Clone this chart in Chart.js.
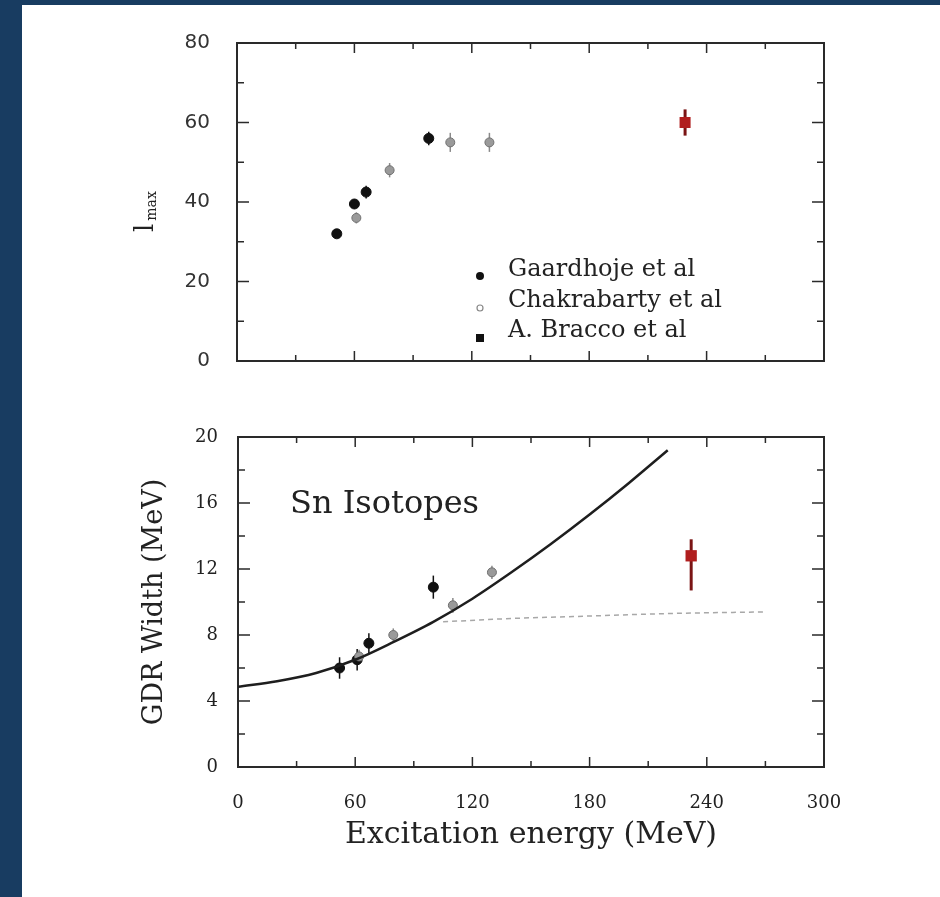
<!DOCTYPE html>
<html><head><meta charset="utf-8">
<script src="https://cdn.jsdelivr.net/npm/chart.js@4.4.1/dist/chart.umd.min.js"></script>
<style>
html,body{margin:0;padding:0;}
body{width:940px;height:897px;background:#183c61;position:relative;overflow:hidden;}
#paper{position:absolute;left:22px;top:5px;width:918px;height:892px;background:#fff;}
#c1{position:absolute;left:0;top:0;}
#c2{position:absolute;left:0;top:400px;}
</style></head><body>
<div id="paper"></div>
<canvas id="c1" width="940" height="400"></canvas>
<canvas id="c2" width="940" height="497"></canvas>
<script>
// ---------- data ----------
const xTickStep = 60;
const xMin = 0, xMax = 300;
const topYTickStep = 20, topYMin = 0, topYMax = 80;
const botYTickStep = 4, botYMin = 0, botYMax = 20;

// top panel: l_max vs excitation energy
const gaardE_top = [51, 60, 66, 98];
const gaardLmax = [32, 39.5, 42.5, 56];
const gaardLmaxErr = [1.0, 1.2, 1.6, 1.7];
const chakE_top = [61, 78, 109, 129];
const chakLmax = [36, 48, 55, 55];
const chakLmaxErr = [1.4, 1.8, 2.4, 2.4];
const braccoE_top = [229];
const braccoLmax = [60];
const braccoLmaxErr = [3.3];

// bottom panel: GDR width vs excitation energy
const gaardE = [52, 61, 67, 100];
const gaardWidth = [6.0, 6.5, 7.5, 10.9];
const gaardWidthErr = [0.65, 0.65, 0.6, 0.7];
const chakE = [62, 79.5, 110, 130];
const chakWidth = [6.7, 8.0, 9.8, 11.8];
const chakWidthErr = [0.4, 0.4, 0.45, 0.4];
const braccoE = [232];
const braccoWidth = [12.8];
const braccoWidthErrUp = [1.0];
const braccoWidthErrDown = [2.1];

// theory curves
const curveE = [0, 20, 40, 60, 80, 100, 120, 140, 160, 180, 200, 220];
const curveWidth = [4.86, 5.2, 5.7, 6.5, 7.6, 8.8, 10.2, 11.8, 13.5, 15.3, 17.2, 19.2];
const dashE = [105, 140, 180, 220, 270];
const dashWidth = [8.8, 9.0, 9.15, 9.3, 9.4];

const legendLabels = ['Gaardhoje et al', 'Chakrabarty et al', 'A. Bracco et al'];
const panelLabel = 'Sn Isotopes';
const topYTitleMain = 'l';
const topYTitleSub = 'max';
const botYTitle = 'GDR Width (MeV)';
const xTitle = 'Excitation energy (MeV)';

// ---------- helpers ----------
const pts = (xs, ys) => xs.map((v, i) => ({x: v, y: ys[i]}));
const SERIF = '"DejaVu Serif", serif';
const BLACK = '#111111', GRAY = '#9a9a9a', GRAYLINE = '#707070', RED = '#b01e1e', DARKRED = '#7a1414';

const frame = {
  id: 'frame',
  beforeDatasetsDraw(chart) {
    const {ctx, chartArea: a, scales: {x, y}} = chart;
    const set = (scale) => {
      const t = scale.ticks.map(k => k.value);
      const r = t.map(v => [v, true]);
      for (let i = 0; i < t.length - 1; i++) r.push([(t[i] + t[i + 1]) / 2, false]);
      return r;
    };
    ctx.save();
    ctx.strokeStyle = '#2a2a2a';
    ctx.lineWidth = 2;
    ctx.strokeRect(a.left, a.top, a.right - a.left, a.bottom - a.top);
    ctx.lineWidth = 1.5;
    ctx.beginPath();
    for (const [v, major] of set(x)) {
      const px = x.getPixelForValue(v), len = major ? 10 : 6;
      ctx.moveTo(px, a.bottom); ctx.lineTo(px, a.bottom - len);
      ctx.moveTo(px, a.top); ctx.lineTo(px, a.top + len);
    }
    for (const [v, major] of set(y)) {
      const py = y.getPixelForValue(v), len = major ? 12 : 7;
      ctx.moveTo(a.left, py); ctx.lineTo(a.left + len, py);
      ctx.moveTo(a.right, py); ctx.lineTo(a.right - len, py);
    }
    ctx.stroke();
    // error bars
    chart.data.datasets.forEach(ds => {
      if (!ds.errUp) return;
      ctx.strokeStyle = ds.errColor; ctx.lineWidth = ds.errWidth;
      ds.data.forEach((p, j) => {
        const px = x.getPixelForValue(p.x);
        ctx.beginPath();
        ctx.moveTo(px, y.getPixelForValue(p.y + ds.errUp[j]));
        ctx.lineTo(px, y.getPixelForValue(p.y - ds.errDown[j]));
        ctx.stroke();
      });
    });
    ctx.restore();
  }
};

const base = (yMin, yMax, yStep, yW, yTickFont, yTickColor, yPad, xH) => ({
  responsive: false, animation: false, events: [],
  plugins: {legend: {display: false}, tooltip: {enabled: false}},
  scales: {
    x: {type: 'linear', min: xMin, max: xMax,
        ticks: {stepSize: xTickStep, display: false},
        grid: {display: false}, border: {display: false},
        afterFit: s => { s.height = xH; }},
    y: {type: 'linear', min: yMin, max: yMax,
        ticks: {stepSize: yStep, font: yTickFont, color: yTickColor, padding: yPad},
        grid: {display: false, drawTicks: false}, border: {display: false},
        afterFit: s => { s.width = yW; }}
  }
});

// ---------- top chart ----------
const topOpts = base(topYMin, topYMax, topYTickStep, 237,
  {family: '"DejaVu Sans", sans-serif', size: 20}, '#333', 27, 30);
topOpts.layout = {padding: {top: 43, right: 116, left: 0, bottom: 0}};

const topLabels = {
  id: 'topLabels',
  afterDraw(chart) {
    const ctx = chart.ctx;
    ctx.save();
    ctx.fillStyle = '#222';
    // y title l_max
    ctx.translate(153, 232);
    ctx.rotate(-Math.PI / 2);
    ctx.textBaseline = 'alphabetic';
    ctx.font = '26px ' + SERIF;
    ctx.fillText(topYTitleMain, 0, 0);
    const w = ctx.measureText(topYTitleMain).width;
    ctx.font = '14px ' + SERIF;
    ctx.fillText(topYTitleSub, w + 3, 3);
    ctx.restore();
    // legend
    ctx.save();
    ctx.font = '24px ' + SERIF;
    ctx.fillStyle = '#222';
    ctx.textBaseline = 'middle';
    const ys = [270, 301, 331];
    legendLabels.forEach((t, i) => ctx.fillText(t, 508, ys[i]));
    ctx.fillStyle = BLACK;
    ctx.beginPath(); ctx.arc(480, 276, 4, 0, Math.PI * 2); ctx.fill();
    ctx.strokeStyle = '#888'; ctx.lineWidth = 1.2;
    ctx.beginPath(); ctx.arc(480, 308, 3, 0, Math.PI * 2); ctx.stroke();
    ctx.fillStyle = BLACK;
    ctx.fillRect(476, 334, 8, 8);
    ctx.restore();
  }
};

new Chart(document.getElementById('c1'), {
  type: 'scatter',
  data: {datasets: [
    {label: legendLabels[1], data: pts(chakE_top, chakLmax), pointRadius: 4.5,
     backgroundColor: GRAY, borderColor: GRAYLINE, borderWidth: 1,
     errUp: chakLmaxErr, errDown: chakLmaxErr, errColor: '#8a8a8a', errWidth: 1.5},
    {label: legendLabels[0], data: pts(gaardE_top, gaardLmax), pointRadius: 5,
     backgroundColor: BLACK, borderColor: BLACK, borderWidth: 1,
     errUp: gaardLmaxErr, errDown: gaardLmaxErr, errColor: BLACK, errWidth: 1.5},
    {label: legendLabels[2], data: pts(braccoE_top, braccoLmax), pointStyle: 'rect', pointRadius: 7.8,
     backgroundColor: RED, borderColor: RED, borderWidth: 0,
     errUp: braccoLmaxErr, errDown: braccoLmaxErr, errColor: DARKRED, errWidth: 3}
  ]},
  options: topOpts,
  plugins: [frame, topLabels]
});

// ---------- bottom chart ----------
const botOpts = base(botYMin, botYMax, botYTickStep, 238,
  {family: SERIF, size: 18}, '#222', 20, 130);
botOpts.layout = {padding: {top: 37, right: 116, left: 0, bottom: 0}};
botOpts.scales.x.ticks = {stepSize: xTickStep, display: true, font: {family: SERIF, size: 18}, color: '#222', padding: 18, maxRotation: 0};
botOpts.scales.x.title = {display: true, text: xTitle, font: {family: SERIF, size: 30}, color: '#222', padding: {top: 0, bottom: 44}};
botOpts.scales.y.title = {display: true, text: botYTitle, font: {family: SERIF, size: 27}, color: '#222', padding: {top: 139, bottom: 0}};

const botLabels = {
  id: 'botLabels',
  afterDraw(chart) {
    const ctx = chart.ctx;
    ctx.save();
    ctx.font = '32px ' + SERIF;
    ctx.fillStyle = '#222';
    ctx.textBaseline = 'middle';
    ctx.fillText(panelLabel, 290, 105);
    ctx.restore();
  }
};

new Chart(document.getElementById('c2'), {
  type: 'scatter',
  data: {datasets: [
    {label: 'dashed', data: pts(dashE, dashWidth), showLine: true, pointRadius: 0,
     borderColor: '#a8a8a8', borderWidth: 1.5, borderDash: [5, 4], tension: 0.3, cubicInterpolationMode: 'monotone'},
    {label: 'curve', data: pts(curveE, curveWidth), showLine: true, pointRadius: 0,
     borderColor: '#1e1e1e', borderWidth: 2.5, tension: 0.4, cubicInterpolationMode: 'monotone'},
    {label: legendLabels[1], data: pts(chakE, chakWidth), pointRadius: 4.5,
     backgroundColor: GRAY, borderColor: GRAYLINE, borderWidth: 1,
     errUp: chakWidthErr, errDown: chakWidthErr, errColor: '#8a8a8a', errWidth: 1.5},
    {label: legendLabels[0], data: pts(gaardE, gaardWidth), pointRadius: 5,
     backgroundColor: BLACK, borderColor: BLACK, borderWidth: 1,
     errUp: gaardWidthErr, errDown: gaardWidthErr, errColor: BLACK, errWidth: 1.5},
    {label: legendLabels[2], data: pts(braccoE, braccoWidth), pointStyle: 'rect', pointRadius: 8,
     backgroundColor: RED, borderColor: RED, borderWidth: 0,
     errUp: braccoWidthErrUp, errDown: braccoWidthErrDown, errColor: DARKRED, errWidth: 3}
  ]},
  options: botOpts,
  plugins: [frame, botLabels]
});
</script>
</body></html>
